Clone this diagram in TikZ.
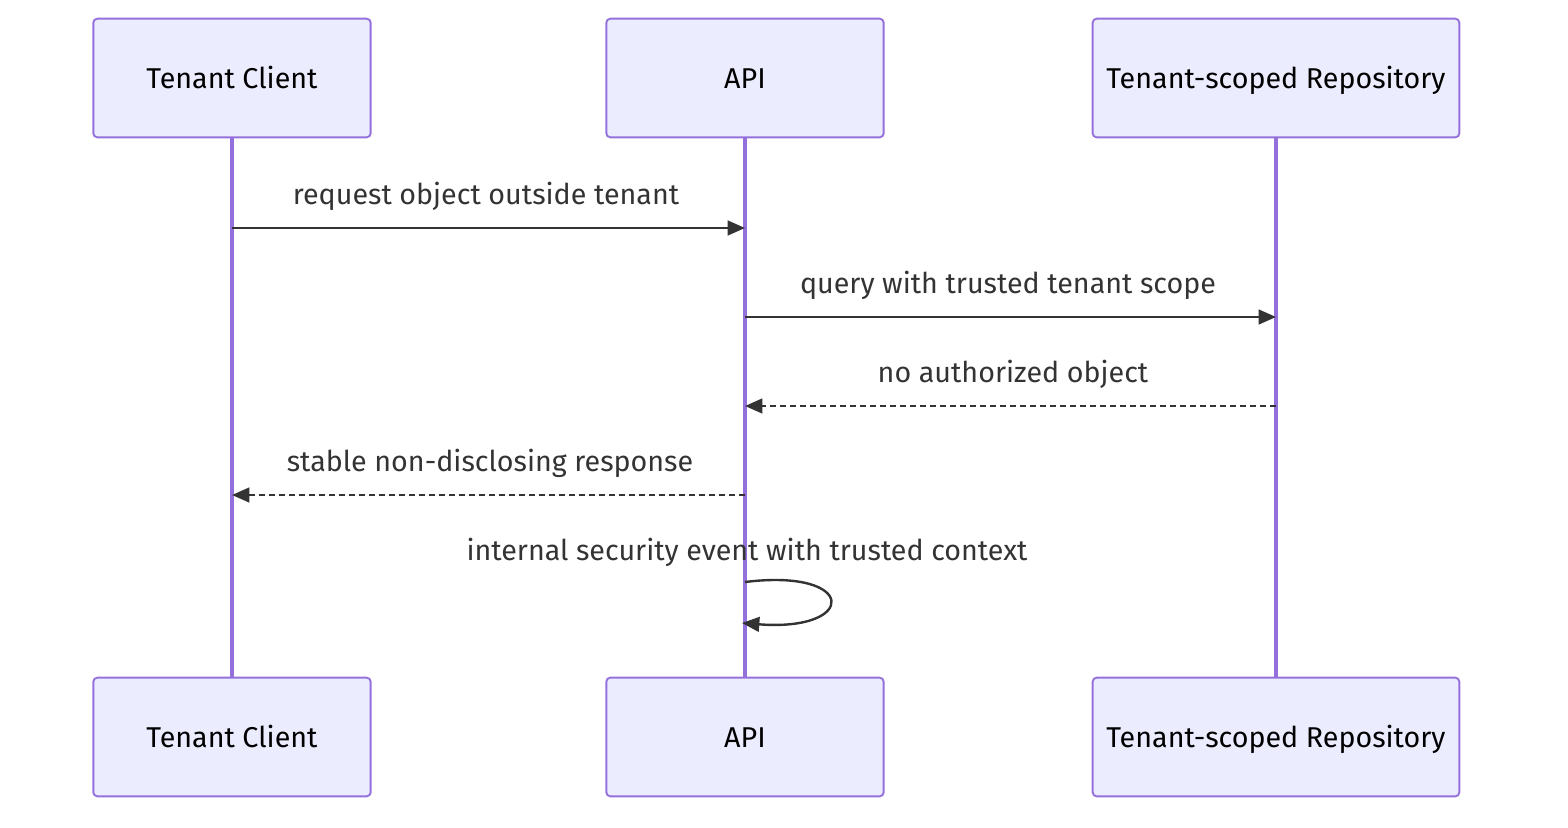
\documentclass[tikz,border=0pt]{standalone}
\usepackage{fontspec}
\setmainfont{Fira Sans}
\usetikzlibrary{arrows.meta}
\definecolor{actfill}{HTML}{ECECFF}
\definecolor{actline}{HTML}{9370DB}
\definecolor{msgline}{HTML}{333333}
\begin{document}
\begin{tikzpicture}[x=0.75pt,y=-0.75pt,
  actor/.style={draw=actline,fill=actfill,line width=1.4pt,rounded corners=3pt,minimum width=208pt,minimum height=89pt,inner sep=0pt,text height=15pt,text depth=4pt,font=\fontsize{21.5}{25}\selectfont},
  life/.style={actline,line width=2.6pt},
  msg/.style={msgline,line width=1.8pt,-{Triangle[length=13pt,width=11pt]}},
  reply/.style={msg,dash pattern=on 4.5pt off 3pt},
  lbl/.style={text=msgline,font=\fontsize{21.5}{25}\selectfont,inner sep=0pt,text height=15pt,text depth=4pt}]
\useasboundingbox (0,0) rectangle (1568,828);
\node[actor] (tc) at (232,78) {\raisebox{-2pt}{Tenant Client}};
\node[actor] (api) at (745,78) {\raisebox{-2pt}{API}};
\node[actor,minimum width=275pt] (repo) at (1276,78) {\raisebox{-2pt}{Tenant-scoped Repository}};
\node[actor] (tcb) at (232,737) {\raisebox{-2pt}{Tenant Client}};
\node[actor] (apib) at (745,737) {\raisebox{-2pt}{API}};
\node[actor,minimum width=275pt] (repob) at (1276,737) {\raisebox{-2pt}{Tenant-scoped Repository}};
\draw[life] (tc) -- (tcb);
\draw[life] (api) -- (apib);
\draw[life] (repo) -- (repob);
% points on the lifelines
\coordinate (tc1) at (232,228); \coordinate (api1) at (745,228);
\coordinate (api2) at (745,317); \coordinate (repo2) at (1276,317);
\coordinate (repo3) at (1276,406); \coordinate (api3) at (745,406);
\coordinate (api4) at (745,495); \coordinate (tc4) at (232,495);
\coordinate (api5) at (745,582); \coordinate (api6) at (742,623);
\draw[msg] (tc1) -- (api1);
\node[lbl] (m1) at (486,197) {request object outside tenant};
\draw[msg] (api2) -- (repo2);
\node[lbl] (m2) at (1008,286) {query with trusted tenant scope};
\draw[reply] (repo3) -- (api3);
\node[lbl] (m3) at (1013,375) {no authorized object};
\draw[reply] (api4) -- (tc4);
\node[lbl] (m4) at (490,464) {stable non-disclosing response};
\draw[msg] (api5) .. controls (858,568) and (858,632) .. (api6);
\node[lbl] (m5) at (747,553) {internal security event with trusted context};
\end{tikzpicture}
\end{document}
